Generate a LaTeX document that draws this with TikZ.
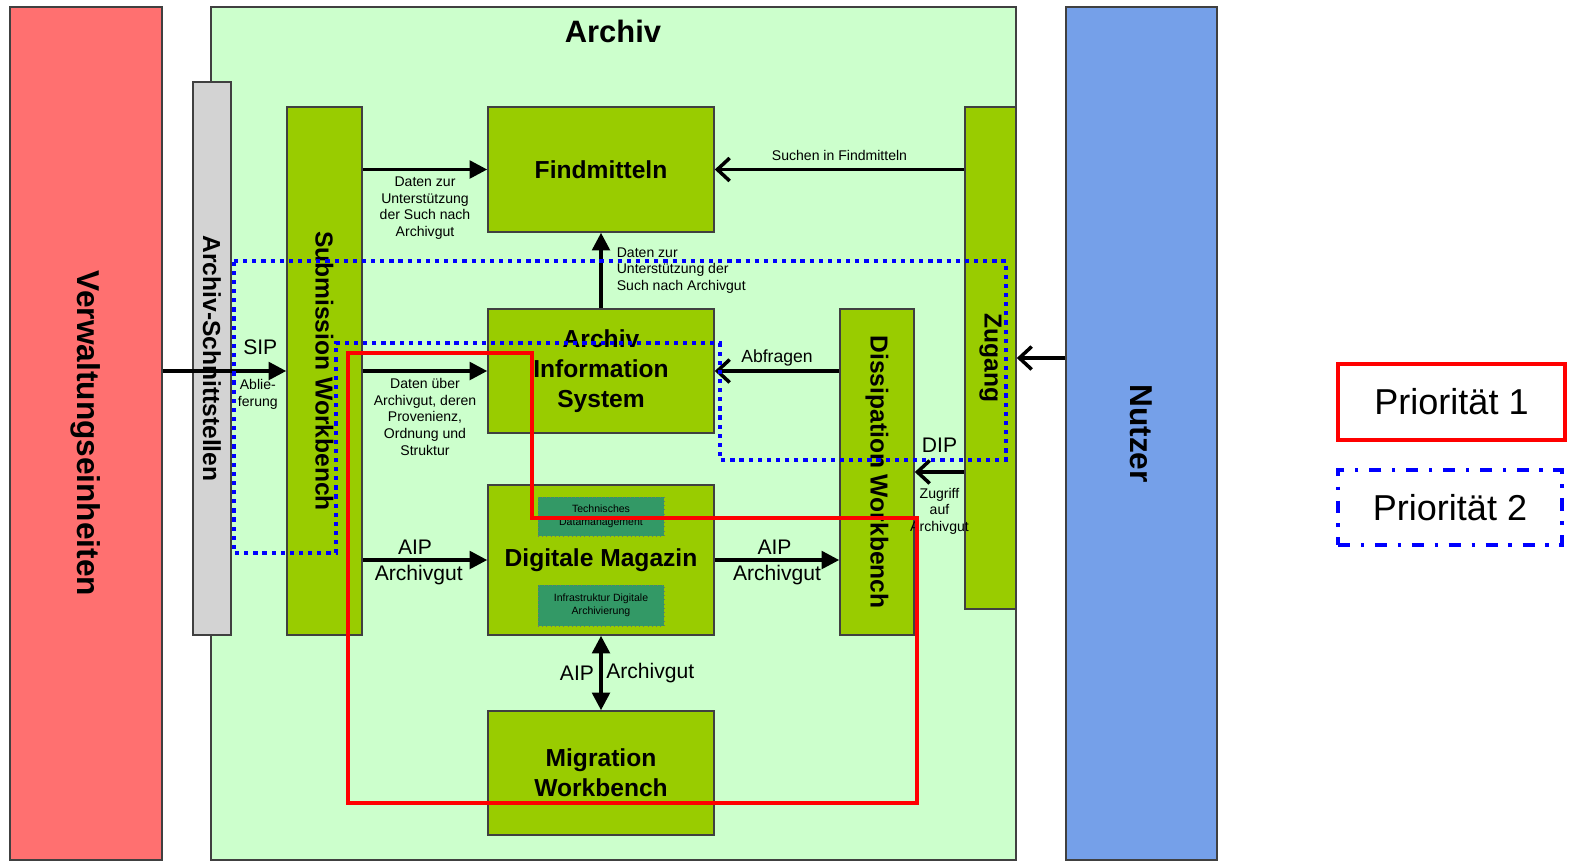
\documentclass[tikz,border=0pt]{standalone}
\usepackage{fontspec}
\setmainfont{Liberation Sans}
\usetikzlibrary{arrows.meta}
\definecolor{verwred}{RGB}{255,112,112}
\definecolor{archivbg}{RGB}{204,255,204}
\definecolor{nutzerblue}{RGB}{117,160,233}
\definecolor{schnittgray}{RGB}{211,211,211}
\definecolor{boxgreen}{RGB}{153,204,0}
\definecolor{innerteal}{RGB}{51,153,102}
\definecolor{prioblue}{RGB}{0,0,255}
\begin{document}
\begin{tikzpicture}[x=0.02cm, y=-0.02cm,
    block/.style={draw=black!75, line width=0.9pt, fill=boxgreen, inner sep=0pt},
    boxtext/.style={font=\fontsize{14}{17}\selectfont\bfseries, align=center},
    vtext/.style={rotate=-90, font=\fontsize{14}{17}\selectfont\bfseries},
    bigvtext/.style={rotate=-90, font=\fontsize{18}{21}\selectfont\bfseries},
    smalllbl/.style={font=\fontsize{8}{9.6}\selectfont, align=center, inner sep=1pt},
    flowlbl/.style={font=\fontsize{12}{14}\selectfont, inner sep=1pt},
    innerbox/.style={draw=black!55, dotted, fill=innerteal, inner sep=0pt,
        font=\fontsize{6}{7.5}\selectfont, align=center, minimum width=2.52cm},
    fillarrow/.style={line width=2pt, -{Triangle[length=10pt,width=10pt]}},
    openarrow/.style={line width=2pt, -{Straight Barb[length=7pt,width=13pt]}},
    legendbox/.style={fill=white, line width=2pt, inner sep=0pt,
        font=\fontsize{20.5}{24}\selectfont}]
    \useasboundingbox (0,0) rectangle (1571,860);

    % outer columns
    \node[draw=black!75, line width=0.9pt, fill=verwred, minimum width=3.04cm, minimum height=17.06cm] (verw) at (86,433.5) {};
    \node[draw=black!75, line width=0.9pt, fill=archivbg, minimum width=16.1cm, minimum height=17.06cm] (archiv) at (613.5,433.5) {};
    \node[draw=black!75, line width=0.9pt, fill=nutzerblue, minimum width=3.02cm, minimum height=17.06cm] (nutzer) at (1141.5,433.5) {};
    \node[bigvtext] (verwtext) at (verw) {Verwaltungseinheiten};
    \node[bigvtext] (nutzertext) at (nutzer) {Nutzer};
    \node[font=\fontsize{17.6}{20}\selectfont\bfseries] (archivtitle) at (613,31) {Archiv};

    % blocks inside the archive
    \node[draw=black!75, line width=0.9pt, fill=schnittgray, minimum width=0.76cm, minimum height=11.06cm] (schnitt) at (212,358.5) {};
    \node[vtext] (schnitttext) at (schnitt) {Archiv-Schnittstellen};
    \node[block, minimum width=1.5cm, minimum height=10.56cm] (swb) at (324.5,371) {};
    \node[vtext] (swbtext) at (swb) {Submission Workbench};
    \node[block, minimum width=4.52cm, minimum height=2.5cm, boxtext] (fm) at (601,169.5) {Findmitteln};
    \node[block, minimum width=4.52cm, minimum height=2.48cm, boxtext] (ais) at (601,371) {Archiv\\Information\\System};
    \node[block, minimum width=4.52cm, minimum height=3cm, boxtext] (dm) at (601,560) {Digitale Magazin};
    \node[innerbox, minimum height=0.78cm] (tdm) at (601,516.5) {Technisches\\Datamanagement};
    \node[innerbox, minimum height=0.82cm] (infra) at (601,605.5) {Infrastruktur Digitale\\Archivierung};
    \node[block, minimum width=4.52cm, minimum height=2.48cm, boxtext] (mig) at (601,773) {Migration\\Workbench};
    \node[block, minimum width=1.48cm, minimum height=6.52cm] (diss) at (877,472) {};
    \node[vtext] (disstext) at (diss) {Dissipation Workbench};
    \node[block, minimum width=1.02cm, minimum height=10.04cm] (zug) at (990.5,358) {};
    \node[vtext] (zugtext) at (zug) {Zugang};

    % flows
    \draw[fillarrow] (verw.east |- swb.west) -- (swb.west)
        node[flowlbl, above=7pt, pos=.79] (sip) {SIP}
        node[smalllbl, below=3pt, pos=.77] (ablief) {Ablie-\\ferung};
    \draw[fillarrow] (swb.east |- fm.west) -- (fm.west)
        node[smalllbl, below=2pt, pos=.5] (lblsuch) {Daten zur\\Unterstützung\\der Such nach\\Archivgut};
    \draw[fillarrow] (swb.east |- ais.west) -- (ais.west)
        node[smalllbl, below=2pt, pos=.5] (lblueber) {Daten über\\Archivgut, deren\\Provenienz,\\Ordnung und\\Struktur};
    \draw[fillarrow] (swb.east |- dm.west) -- (dm.west)
        node[flowlbl, above=1pt, pos=.42] (aipin) {AIP}
        node[flowlbl, below=1pt, pos=.45] (gutin) {Archivgut};
    \draw[fillarrow] (dm.east) -- (dm.east -| diss.west)
        node[flowlbl, above=1pt, pos=.48] (aipout) {AIP}
        node[flowlbl, below=1pt, pos=.5] (gutout) {Archivgut};
    \draw[fillarrow] (ais.north) -- (fm.south)
        node[smalllbl, right=7pt, pos=.5, align=left] (lblais) {Daten zur\\Unterstützung der\\Such nach Archivgut};
    \draw[line width=2pt, {Triangle[length=10pt,width=10pt]}-{Triangle[length=10pt,width=10pt]}] (dm.south) -- (mig.north)
        node[flowlbl, left=2pt, pos=.5] (aipmig) {AIP}
        node[flowlbl, right=1pt, pos=.5] (gutmig) {Archivgut};
    \draw[openarrow] (zug.west |- fm.east) -- (fm.east)
        node[smalllbl, above=3pt, pos=.5] (lblsuchen) {Suchen in Findmitteln};
    \draw[openarrow] (diss.west |- ais.east) -- (ais.east)
        node[font=\fontsize{10}{12}\selectfont, inner sep=1pt, above=1pt, pos=.5] (lblabfr) {Abfragen};
    \draw[openarrow] (zug.west |- diss.east) -- (diss.east)
        node[flowlbl, above=9pt, pos=.5] (dip) {DIP}
        node[smalllbl, below=7pt, pos=.5] (lblzugriff) {Zugriff\\auf\\Archivgut};
    \draw[openarrow] (nutzer.west |- zug.east) -- (zug.east);

    % priority areas
    \draw[red, line width=2.2pt] (348,803) -- (348,353) -- (532,353) -- (532,518) -- (917,518) -- (917,803) -- cycle;
    \draw[prioblue, line width=2.2pt, dash pattern=on 2.4pt off 2.8pt] (234,261) -- (1006,261) -- (1006,460) -- (720,460) -- (720,343) -- (336,343) -- (336,553) -- (234,553) -- cycle;

    % legend
    \node[legendbox, draw=red, minimum width=4.54cm, minimum height=1.52cm] (prio1) at (1451.5,402) {Priorität 1};
    \node[legendbox, draw=prioblue, dash pattern=on 7pt off 6pt on 2pt off 6pt, minimum width=4.48cm, minimum height=1.5cm] (prio2) at (1450,507.5) {Priorität 2};
\end{tikzpicture}
\end{document}
